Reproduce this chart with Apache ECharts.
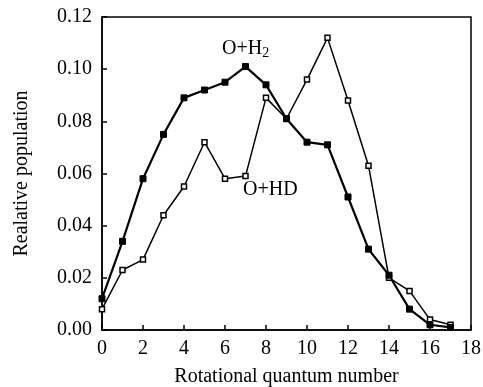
<!DOCTYPE html>
<html>
<head>
<meta charset="utf-8">
<script src="https://cdn.jsdelivr.net/npm/echarts@6/dist/echarts.min.js"></script>
<style>
html, body { margin: 0; padding: 0; background: #fff; }
#main { width: 483px; height: 387px; }
</style>
</head>
<body>
<div id="main"></div>
<script>
// rotational quantum number
var jValues = [0, 1, 2, 3, 4, 5, 6, 7, 8, 9, 10, 11, 12, 13, 14, 15, 16, 17];
// O+H2 (filled squares)
var popH2 = [0.012, 0.034, 0.058, 0.075, 0.089, 0.092, 0.095, 0.101, 0.094, 0.081, 0.072, 0.071, 0.051, 0.031, 0.021, 0.008, 0.002, 0.001];
// O+HD (open squares)
var popHD = [0.008, 0.023, 0.027, 0.044, 0.055, 0.072, 0.058, 0.059, 0.089, 0.081, 0.096, 0.112, 0.088, 0.063, 0.020, 0.015, 0.004, 0.002];

function pairs(xs, ys) {
    return xs.map(function (x, i) { return [x, ys[i]]; });
}

var font = 'Liberation Serif';
var myChart = echarts.init(document.getElementById('main'));
var option = {
    backgroundColor: '#fff',
    animation: false,
    textStyle: { fontFamily: font, color: '#000' },
    grid: {
        left: 102, right: 12, top: 17, bottom: 57,
        outerBoundsMode: 'none', containLabel: false,
        show: true, borderColor: '#000', borderWidth: 1.5
    },
    xAxis: {
        type: 'value', min: 0, max: 18, interval: 2,
        name: 'Rotational quantum number',
        nameLocation: 'middle', nameGap: 37,
        nameTextStyle: { fontFamily: font, fontSize: 20, color: '#000' },
        axisLine: { lineStyle: { color: '#000', width: 1.5 } },
        axisTick: { inside: true, length: 5, lineStyle: { color: '#000', width: 1.5 } },
        axisLabel: { fontFamily: font, fontSize: 20, color: '#000', margin: 9 },
        splitLine: { show: false }
    },
    yAxis: {
        type: 'value', min: 0, max: 0.12, interval: 0.02,
        name: 'Realative population',
        nameLocation: 'middle', nameGap: 70,
        nameTextStyle: { fontFamily: font, fontSize: 20, color: '#000' },
        axisLine: { lineStyle: { color: '#000', width: 1.5 } },
        axisTick: { inside: true, length: 5, lineStyle: { color: '#000', width: 1.5 } },
        axisLabel: {
            fontFamily: font, fontSize: 20, color: '#000', margin: 10,
            formatter: function (v) { return v.toFixed(2); }
        },
        splitLine: { show: false }
    },
    graphic: [{
        type: 'text', left: 222, top: 39,
        style: {
            text: '{a|O+H}{s|2}',
            rich: {
                a: { fontFamily: font, fontSize: 20, fill: '#000' },
                s: { fontFamily: font, fontSize: 14, fill: '#000', padding: [9, 0, 0, 0] }
            }
        }
    }, {
        type: 'text', left: 243, top: 180,
        style: { text: 'O+HD', fontFamily: font, fontSize: 20, fill: '#000' }
    }],
    series: [{
        name: 'O+HD',
        type: 'line',
        data: pairs(jValues, popHD),
        symbol: 'rect', symbolSize: 5,
        lineStyle: { color: '#000', width: 1.5 },
        itemStyle: { color: '#fff', borderColor: '#000', borderWidth: 1.5 }
    }, {
        name: 'O+H2',
        type: 'line',
        data: pairs(jValues, popH2),
        symbol: 'rect', symbolSize: 6,
        lineStyle: { color: '#000', width: 2.2 },
        itemStyle: { color: '#000', borderColor: '#000', borderWidth: 1 }
    }]
};
myChart.setOption(option);
</script>
</body>
</html>
